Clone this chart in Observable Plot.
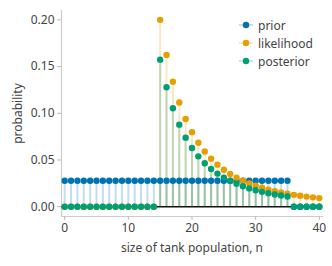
<!DOCTYPE html>
<html>
<head>
<meta charset="utf-8">
<script src="https://cdn.jsdelivr.net/npm/d3@7"></script>
<script src="https://cdn.jsdelivr.net/npm/@observablehq/plot@0.6"></script>
<style>
  body { margin: 0; background: #fff; }
  #wrap { position: relative; width: 332px; height: 266px; font-family: "Noto Sans", sans-serif; }
  #legend { position: absolute; left: 238px; top: 16px; font-size: 12px; color: #444; }
  .item { display: flex; align-items: center; height: 18px; }
  .item svg { margin-right: 4px; }
</style>
</head>
<body>
<div id="wrap"></div>
<script>
const n = d3.range(0, 41);
const prior = [0.02778,0.02778,0.02778,0.02778,0.02778,0.02778,0.02778,0.02778,0.02778,0.02778,
  0.02778,0.02778,0.02778,0.02778,0.02778,0.02778,0.02778,0.02778,0.02778,0.02778,
  0.02778,0.02778,0.02778,0.02778,0.02778,0.02778,0.02778,0.02778,0.02778,0.02778,
  0.02778,0.02778,0.02778,0.02778,0.02778,0.02778,0,0,0,0,0];
const likelihood = [0,0,0,0,0,0,0,0,0,0,0,0,0,0,0,
  0.2000,0.1625,0.1338,0.1115,0.0939,0.0798,0.0684,0.0591,0.0514,0.0450,
  0.0396,0.0350,0.0311,0.0278,0.0249,0.0224,0.0202,0.0183,0.0167,0.0152,
  0.0139,0.0127,0.0117,0.0108,0.0100,0.0092];
const posterior = [0,0,0,0,0,0,0,0,0,0,0,0,0,0,0,
  0.1574,0.1279,0.1053,0.0878,0.0739,0.0628,0.0539,0.0465,0.0404,0.0354,
  0.0311,0.0276,0.0245,0.0219,0.0196,0.0176,0.0159,0.0144,0.0131,0.0120,
  0.0109,0,0,0,0,0];
const seriesNames = ["prior", "likelihood", "posterior"];
const seriesColors = ["#0072B2", "#E69F00", "#009E73"];
const xTicks = [0, 10, 20, 30, 40];
const yTicks = [0, 0.05, 0.10, 0.15, 0.20];

const allSeries = [prior, likelihood, posterior];
const rows = allSeries.map((vals, s) => n.map((x, i) => ({n: x, p: vals[i], s: seriesNames[s]})));

const stems = rows.map((r, s) => Plot.ruleX(r, {x: "n", y1: 0, y2: "p", stroke: seriesColors[s], strokeOpacity: 0.24, strokeWidth: 2}));
const dots = rows.map((r, s) => Plot.dot(r, {x: "n", y: "p", fill: seriesColors[s], r: 3.2}));

const chart = Plot.plot({
  width: 332,
  height: 266,
  marginLeft: 61,
  marginRight: 10,
  marginTop: 10,
  marginBottom: 50,
  style: {fontFamily: "Noto Sans, sans-serif", fontSize: "12px", color: "#444", background: "#fff"},
  x: {domain: [-0.5, 40.5], ticks: xTicks, tickFormat: d3.format("d"), label: null},
  y: {domain: [-0.0105, 0.21], ticks: yTicks, tickFormat: d3.format(".2f"), label: null},
  marks: [
    Plot.frame({anchor: "left", stroke: "#ccc", strokeWidth: 1.2}),
    Plot.frame({anchor: "bottom", stroke: "#ccc", strokeWidth: 1.2}),
    Plot.axisX({ticks: xTicks, tickFormat: d3.format("d"), tickSize: 4, tickPadding: 3, stroke: "#bbb", fill: "#444", label: "size of tank population, n", labelAnchor: "center", labelArrow: "none", labelOffset: 35}),
    Plot.axisY({ticks: yTicks, tickFormat: d3.format(".2f"), tickSize: 4, tickPadding: 3, stroke: "#bbb", fill: "#444", label: "probability", labelAnchor: "center", labelArrow: "none", labelOffset: 48}),
    Plot.ruleY([0], {stroke: "#111", strokeWidth: 1.5}),
    ...stems,
    ...dots
  ]
});

const wrap = document.getElementById("wrap");
wrap.appendChild(chart);
const legend = document.createElement("div");
legend.id = "legend";
seriesNames.forEach((name, i) => {
  const item = document.createElement("div");
  item.className = "item";
  item.innerHTML = `<svg width="16" height="10"><line x1="1" x2="15" y1="5" y2="5" stroke="${seriesColors[i]}" stroke-opacity="0.24" stroke-width="2"/><circle cx="8" cy="5" r="3.2" fill="${seriesColors[i]}"/></svg><span>${name}</span>`;
  legend.appendChild(item);
});
wrap.appendChild(legend);
</script>
</body>
</html>
